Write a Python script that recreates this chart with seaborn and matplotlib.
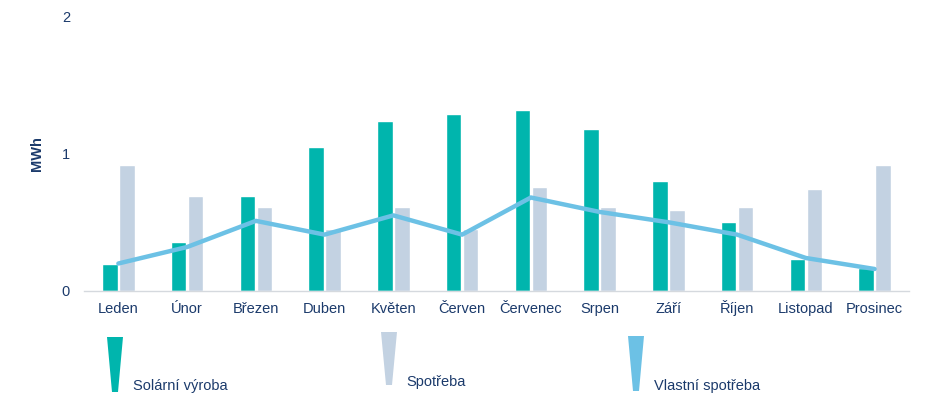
import numpy as np
import pandas as pd
import matplotlib
matplotlib.use('Agg')
import matplotlib.pyplot as plt
from matplotlib.patches import Polygon
import seaborn as sns

# data
months = ['Leden', 'Únor', 'Březen', 'Duben', 'Květen', 'Červen',
          'Červenec', 'Srpen', 'Září', 'Říjen', 'Listopad', 'Prosinec']
vyroba = [0.20, 0.355, 0.69, 1.05, 1.24, 1.29, 1.32, 1.18, 0.80, 0.50, 0.23, 0.17]
spotreba = [0.92, 0.69, 0.61, 0.45, 0.61, 0.45, 0.76, 0.61, 0.59, 0.61, 0.74, 0.92]
vlastni = [0.20, 0.32, 0.51, 0.41, 0.55, 0.41, 0.68, 0.575, 0.50, 0.41, 0.24, 0.16]

c_green = '#00b5ad'
c_gray = '#c3d2e2'
c_line = '#6cc1e5'
c_text = '#1b3a6b'

sns.set_theme(style='white')
plt.rcParams['font.family'] = ['Liberation Sans', 'DejaVu Sans']

df = pd.DataFrame({
    'mesic': months * 2,
    'hodnota': vyroba + spotreba,
    'serie': ['Solární výroba'] * 12 + ['Spotřeba'] * 12,
})

fig = plt.figure(figsize=(9.36, 3.98), dpi=100)
ax = fig.add_axes([84 / 936, 1 - 291 / 398, (909 - 84) / 936, (291 - 16) / 398])

sns.barplot(data=df, x='mesic', y='hodnota', hue='serie', order=months,
            palette=[c_green, c_gray], saturation=1, width=0.5, gap=0.1,
            legend=False, ax=ax)
sns.lineplot(x=np.arange(12), y=vlastni, color=c_line, linewidth=3.2, ax=ax, zorder=5)

ax.set_ylim(0, 2)
ax.set_xlim(-0.5, 11.5)
ax.set_yticks([0, 1, 2])
ax.set_xlabel('')
ax.set_ylabel('MWh', fontsize=10.5, fontweight='bold', color=c_text, labelpad=13)
ax.tick_params(axis='both', length=0, labelsize=10.5, colors=c_text)
ax.tick_params(axis='x', pad=16)
ax.tick_params(axis='y', pad=10)
for lab in ax.get_xticklabels():
    lab.set_verticalalignment('baseline')
for s in ['top', 'right', 'left']:
    ax.spines[s].set_visible(False)
ax.spines['bottom'].set_color('#d5d9de')
ax.spines['bottom'].set_linewidth(1)

# legend with tapered markers
def wedge(x, ytop, ybot, color):
    pts = [(x - 8, ytop), (x + 8, ytop), (x + 3, ybot), (x - 3, ybot)]
    pts = [(px / 936, 1 - py / 398) for px, py in pts]
    fig.patches.append(Polygon(pts, closed=True, transform=fig.transFigure,
                               facecolor=color, edgecolor='none'))

wedge(115, 337, 392, c_green)
wedge(389, 332, 385, c_gray)
wedge(636, 336, 391, c_line)
fig.text(133 / 936, 1 - 386 / 398, 'Solární výroba', fontsize=10.5, color=c_text, va='center')
fig.text(406 / 936, 1 - 382 / 398, 'Spotřeba', fontsize=10.5, color=c_text, va='center')
fig.text(654 / 936, 1 - 386 / 398, 'Vlastní spotřeba', fontsize=10.5, color=c_text, va='center')

fig.savefig('out.png', dpi=100)
